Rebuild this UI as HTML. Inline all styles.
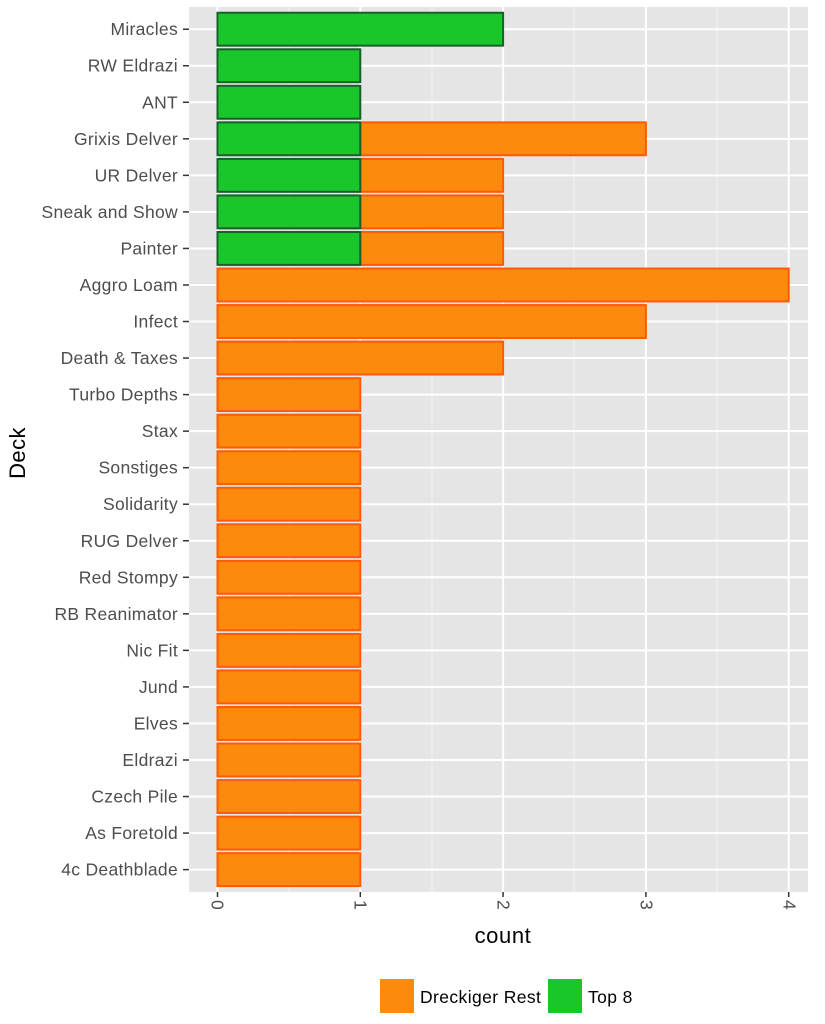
<!DOCTYPE html>
<html><head><meta charset="utf-8"><style>body{margin:0;background:#fff}svg{display:block}</style></head><body>
<svg width="825" height="1024" xmlns="http://www.w3.org/2000/svg" font-family="Liberation Sans, sans-serif">
<rect x="189" y="7" width="619" height="885" fill="#e5e5e5"/>
<g stroke="#f2f2f2" stroke-width="1">
<line x1="289" y1="7" x2="289" y2="892"/><line x1="432" y1="7" x2="432" y2="892"/><line x1="574" y1="7" x2="574" y2="892"/><line x1="717" y1="7" x2="717" y2="892"/>
</g>
<g id="grid" stroke="#fff" stroke-width="2"></g>
<g id="bars"></g>
<g id="labels" font-size="17.5" fill="#4d4d4d" text-anchor="end" letter-spacing="0.3"></g>
<g stroke="#333" stroke-width="1.5">
<line x1="217.5" y1="892" x2="217.5" y2="897"/><line x1="360.3" y1="892" x2="360.3" y2="897"/><line x1="503.1" y1="892" x2="503.1" y2="897"/><line x1="645.9" y1="892" x2="645.9" y2="897"/><line x1="788.7" y1="892" x2="788.7" y2="897"/>
</g>
<g font-size="17.5" fill="#4d4d4d">
<text transform="translate(211.5,900) rotate(90)">0</text>
<text transform="translate(354.5,900) rotate(90)">1</text>
<text transform="translate(497.5,900) rotate(90)">2</text>
<text transform="translate(640.5,900) rotate(90)">3</text>
<text transform="translate(783.5,900) rotate(90)">4</text>
</g>
<text x="503" y="943" font-size="22" letter-spacing="0.6" text-anchor="middle" fill="#000">count</text>
<text transform="translate(25,453) rotate(-90)" font-size="22" letter-spacing="0.4" text-anchor="middle" fill="#000">Deck</text>
<rect x="380" y="979" width="34" height="34" fill="#fd8a0c"/>
<text x="420" y="1003" font-size="17.5" letter-spacing="0.4" fill="#000">Dreckiger Rest</text>
<rect x="548" y="979" width="34" height="34" fill="#1ac72a"/>
<text x="588" y="1003" font-size="17.5" letter-spacing="0.4" fill="#000">Top 8</text>
<script>
var names=["Miracles","RW Eldrazi","ANT","Grixis Delver","UR Delver","Sneak and Show","Painter","Aggro Loam","Infect","Death & Taxes","Turbo Depths","Stax","Sonstiges","Solidarity","RUG Delver","Red Stompy","RB Reanimator","Nic Fit","Jund","Elves","Eldrazi","Czech Pile","As Foretold","4c Deathblade"];
var g=[2,1,1,1,1,1,1,0,0,0],o=[0,0,0,3,2,2,2,4,3,2];
var NS="http://www.w3.org/2000/svg";
function el(p,t,a,txt){var e=document.createElementNS(NS,t);for(var k in a)e.setAttribute(k,a[k]);if(txt)e.textContent=txt;document.getElementById(p).appendChild(e);}
function X(v){return 217.5+142.8*v;}
for(var i=0;i<24;i++){var y=29.2+i*36.54;
el("grid","line",{x1:189,x2:808,y1:y,y2:y});
el("labels","text",{x:178,y:y+6},names[i]);
el("labels","line",{x1:183,x2:189,y1:y,y2:y,stroke:"#333","stroke-width":1.5});
var gv=i<10?g[i]:0,ov=i<10?o[i]:1;var h=32.9;
if(ov>0){el("bars","rect",{x:X(gv),y:y-h/2,width:X(ov)-X(gv),height:h,fill:"#fd8a0c",stroke:"#ff5a0a","stroke-width":2});}
if(gv>0){el("bars","rect",{x:X(0),y:y-h/2,width:X(gv)-X(0),height:h,fill:"#1ac72a",stroke:"#16602a","stroke-width":2});}
}
[0,1,2,3,4].forEach(function(v){el("grid","line",{x1:X(v),x2:X(v),y1:7,y2:892});});
</script>
</svg>
</body></html>
